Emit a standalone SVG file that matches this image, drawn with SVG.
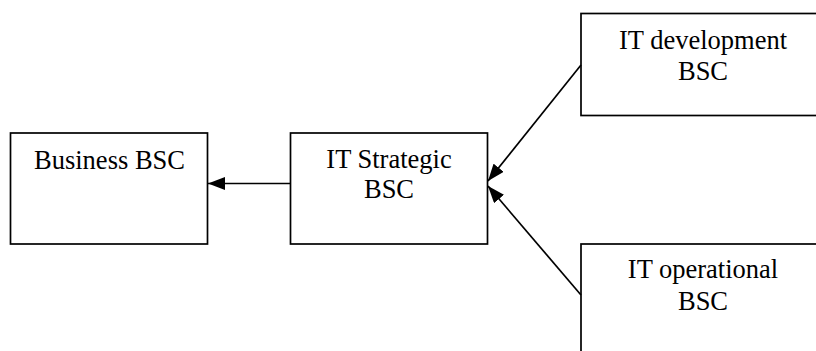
<svg xmlns="http://www.w3.org/2000/svg" width="816" height="351" viewBox="0 0 816 351">
<style>
.box{fill:#fff;stroke:#000;stroke-width:1.7}
.t{font-family:"Liberation Serif","Times New Roman",serif;font-size:26.5px;fill:#000;text-anchor:middle}
.c{stroke:#000;stroke-width:1.7;fill:none}
</style>
<defs>
<marker id="ah" markerWidth="17" markerHeight="13" refX="17" refY="6.5" orient="auto" markerUnits="userSpaceOnUse">
<path d="M0,0 L17,6.5 L0,13 Z" fill="#000"/>
</marker>
</defs>
<rect width="816" height="351" fill="#fff"/>
<g id="business">
<rect class="box" x="10.5" y="133" width="197" height="111"/>
<text class="t" x="109.5" y="169">Business BSC</text>
</g>
<g id="strategic">
<rect class="box" x="290.5" y="133" width="197" height="111"/>
<text class="t" x="389" y="168">IT Strategic</text>
<text class="t" x="389" y="198">BSC</text>
</g>
<g id="development">
<rect class="box" x="581" y="13.5" width="245" height="102"/>
<text class="t" x="703" y="49">IT development</text>
<text class="t" x="703" y="80">BSC</text>
</g>
<g id="operational">
<rect class="box" x="581" y="244" width="245" height="120"/>
<text class="t" x="703" y="278">IT operational</text>
<text class="t" x="703" y="310">BSC</text>
</g>
<g id="connectors">
<line class="c" x1="290" y1="183.5" x2="208" y2="183.5" marker-end="url(#ah)"/>
<line class="c" x1="581" y1="65" x2="488" y2="181" marker-end="url(#ah)"/>
<line class="c" x1="581" y1="295" x2="488" y2="186" marker-end="url(#ah)"/>
</g>
</svg>
